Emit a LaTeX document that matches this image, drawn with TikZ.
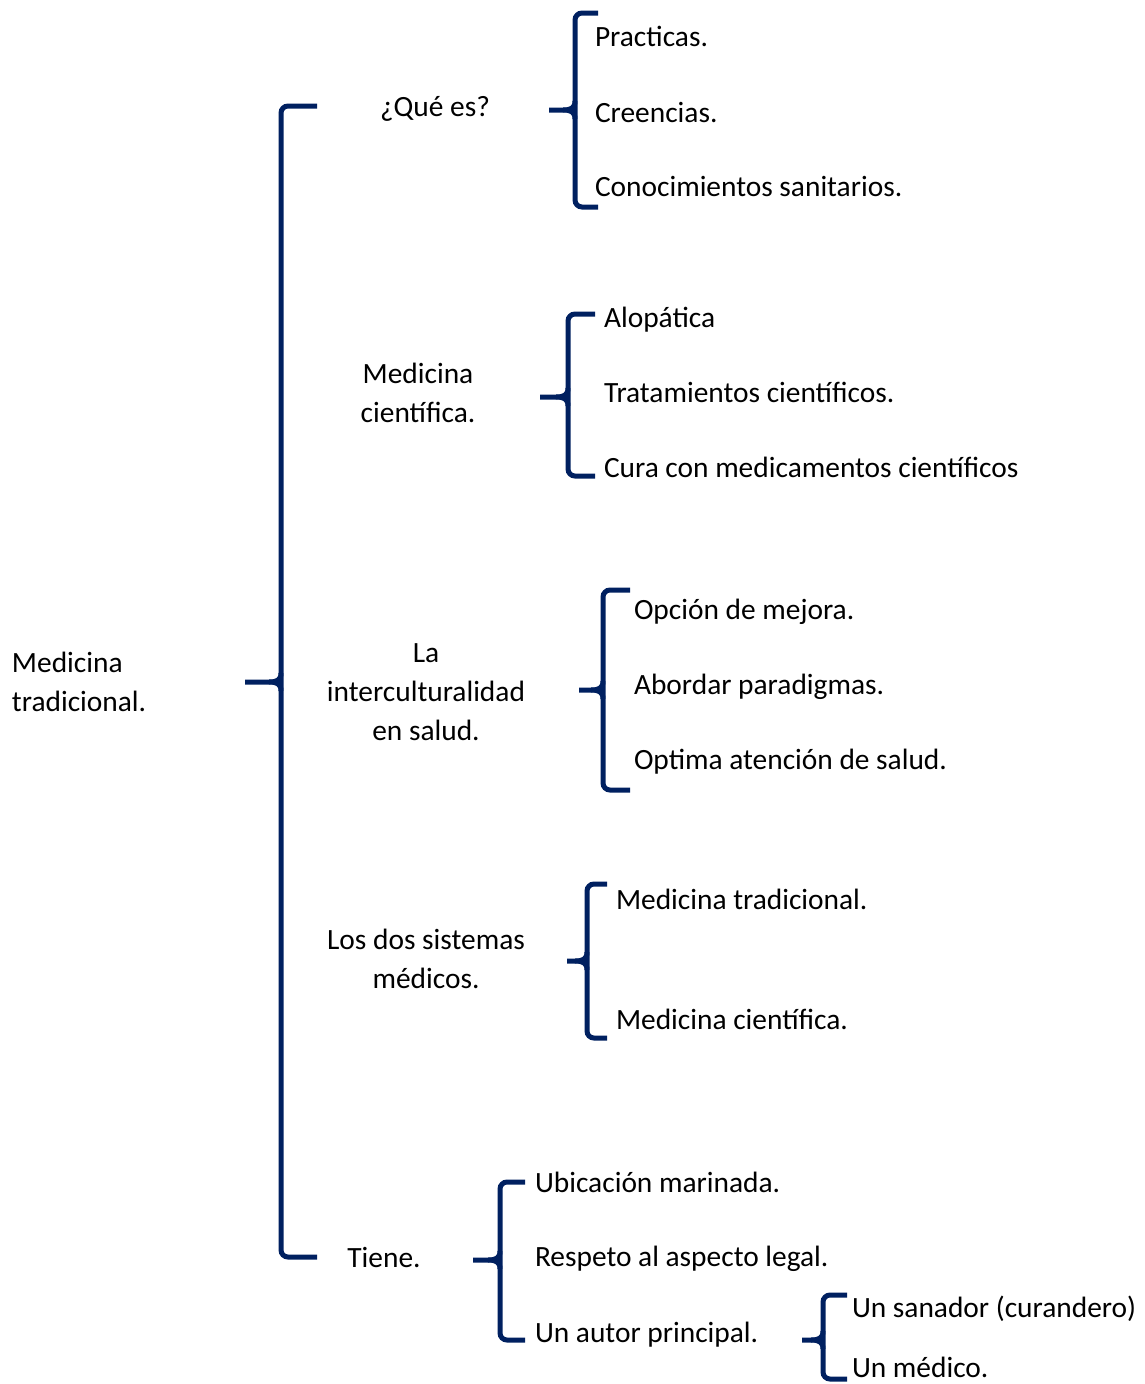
\documentclass[tikz,border=0pt]{standalone}
\usepackage{fontspec}
\setmainfont{Carlito}
\definecolor{navy}{HTML}{002060}
\newcommand\mybrace[6]{% xv, ytop, ybot, xarm, ymid, xtip
  \draw[bracestyle,rounded corners=7] (#4,#2) -- (#1,#2) -- (#1,#3) -- (#4,#3);
  \draw[bracestyle] (#1,#5-9) .. controls (#1,#5-2) and (#1-4,#5) .. (#1-12,#5) -- (#6,#5);
  \draw[bracestyle] (#1,#5+9) .. controls (#1,#5+2) and (#1-4,#5) .. (#1-12,#5);
}
\begin{document}
\begin{tikzpicture}[x=1pt,y=-1pt,
  bracestyle/.style={draw=navy,line width=5pt,line cap=butt},
  txt/.style={inner sep=0pt,outer sep=0pt,font=\fontsize{29.4}{38.7}\selectfont,text=black},
  item/.style={txt,anchor=base west},
  head/.style={txt,anchor=base,align=center}]
\useasboundingbox (0,0) rectangle (1144,1384);

% braces
\mybrace{281}{106}{1257}{317}{682}{245}
\mybrace{575}{13}{207}{598}{110}{549}
\mybrace{568}{314}{476}{595}{397}{540}
\mybrace{603}{590}{790}{630}{690}{579}
\mybrace{587}{884}{1038}{607}{961}{567}
\mybrace{500}{1182}{1340}{525}{1260}{473}
\mybrace{823}{1295}{1379}{847}{1340}{802}

% root (anchor on last line baseline)
\node[txt,anchor=base west,align=left] (root) at (12,711) {Medicina\\tradicional.};

% heads (anchor on last line baseline)
\node[head] (que) at (435,116) {¿Qué es?};
\node[head] (mc) at (418,422) {Medicina\\científica.};
\node[head] (li) at (426,740) {La\\interculturalidad\\en salud.};
\node[head] (ld) at (426,988) {Los dos sistemas\\médicos.};
\node[head] (ti) at (384,1267) {Tiene.};

% items
\node[item] (a1) at (595,46) {Practicas.};
\node[item] (a2) at (595,122) {Creencias.};
\node[item] (a3) at (595,196) {Conocimientos sanitarios.};

\node[item] (b1) at (604,327) {Alopática};
\node[item] (b2) at (604,402) {Tratamientos científicos.};
\node[item] (b3) at (604,477) {Cura con medicamentos científicos};

\node[item] (c1) at (634,619) {Opción de mejora.};
\node[item] (c2) at (634,694) {Abordar paradigmas.};
\node[item] (c3) at (634,769) {Optima atención de salud.};

\node[item] (d1) at (616,909) {Medicina tradicional.};
\node[item] (d2) at (616,1029) {Medicina científica.};

\node[item] (e1) at (535,1192) {Ubicación marinada.};
\node[item] (e2) at (535,1266) {Respeto al aspecto legal.};
\node[item] (e3) at (535,1342) {Un autor principal.};

\node[item] (f1) at (852,1317) {Un sanador (curandero)};
\node[item] (f2) at (852,1377) {Un médico.};
\end{tikzpicture}
\end{document}
